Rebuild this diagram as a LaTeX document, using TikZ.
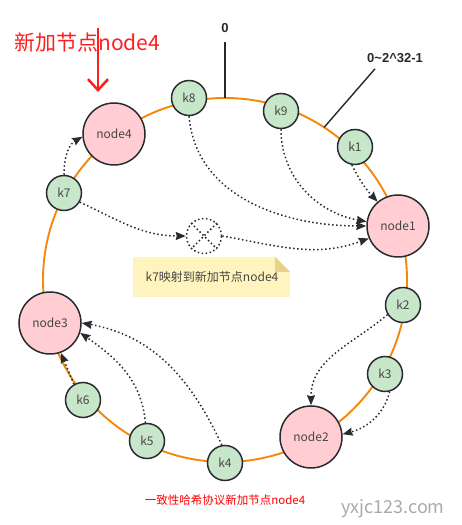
\documentclass[tikz,border=0pt]{standalone}
\usepackage{fontspec}
\setmainfont{Noto Sans CJK SC}
\newfontfamily\libsans{Liberation Sans}
\usetikzlibrary{arrows.meta}
\definecolor{ringorange}{RGB}{245,135,10}
\definecolor{edgegray}{RGB}{40,44,48}
\definecolor{labelgray}{RGB}{70,70,70}
\definecolor{kgreen}{RGB}{200,230,201}
\definecolor{npink}{RGB}{255,205,210}
\definecolor{noteyellow}{RGB}{255,244,189}
\definecolor{notefold}{RGB}{230,210,138}
\definecolor{titlered}{RGB}{255,30,30}
\definecolor{wmgray}{RGB}{170,170,170}
\definecolor{darktext}{RGB}{40,40,40}
\tikzset{
  knode/.style={circle, draw=edgegray, line width=1.5pt, fill=kgreen, minimum size=35pt, inner sep=0pt, text=labelgray, font=\fontsize{12}{14}\selectfont},
  nnode/.style={circle, draw=edgegray, line width=1.5pt, fill=npink, minimum size=62pt, inner sep=0pt, text=labelgray, font=\fontsize{12}{14}\selectfont},
  dotline/.style={draw=edgegray, line width=1.5pt, dash pattern=on 1.5pt off 2.5pt},
  dotarrow/.style={dotline, -{Stealth[length=10pt,width=8pt,inset=1pt]}},
  boldlbl/.style={text=darktext, font=\libsans\bfseries\fontsize{13}{15}\selectfont, inner sep=0pt}
}
\begin{document}
\begin{tikzpicture}[x=1pt,y=1pt]
\useasboundingbox (0,0) rectangle (462,525);
% ring
\node[circle, draw=ringorange, line width=1.9pt, minimum size=364pt, inner sep=0pt, outer sep=0pt] (ring) at (225,245) {};
% labels on ring
\node[boldlbl] (zero) at (225,497) {0};
\draw[darktext, line width=1.4pt] ([yshift=-9pt]zero.south) -- (ring.north);
\node[boldlbl, anchor=west] (range) at (367,467) {0\textasciitilde2\textasciicircum32-1};
\draw[darktext, line width=1.4pt] ([xshift=8pt,yshift=-6pt]range.south west) -- (ring.57);
% nodes
\node[knode] (k8) at (189,427) {k8};
\node[knode] (k9) at (281,414) {k9};
\node[knode] (k1) at (355,378) {k1};
\node[knode] (k7) at (64,332) {k7};
\node[knode] (k2) at (403,220) {k2};
\node[knode] (k3) at (385,151) {k3};
\node[knode] (k4) at (225,62) {k4};
\node[knode] (k5) at (147,84) {k5};
\node[knode] (k6) at (83,125) {k6};
\node[nnode] (node4) at (114,391) {node4};
\node[nnode] (node1) at (398,299) {node1};
\node[nnode] (node3) at (50,202) {node3};
\node[nnode] (node2) at (311,88) {node2};
% dotted crossed circle
\node[circle, dotline, minimum size=35pt, inner sep=0pt] (hx) at (204,289) {};
\draw[dotline] (hx.north west) -- (hx.south east);
\draw[dotline] (hx.north east) -- (hx.south west);
% note
\coordinate (nsw) at (133,228);
\coordinate (nne) at (290,268);
\fill[noteyellow] (nsw) -- (nsw |- nne) -- ([xshift=-15pt]nne) -- ([yshift=-15pt]nne) -- (nne |- nsw) -- cycle;
\fill[notefold] ([xshift=-15pt]nne) -- ([xshift=-15pt,yshift=-15pt]nne) -- ([yshift=-15pt]nne) -- cycle;
\node[text=labelgray, font=\fontsize{12}{14}\selectfont] (note) at (212,248) {k7映射到新加节点node4};
% dotted arrows
\draw[dotarrow] (k8.south) to[out=-85,in=180] (node1.180);
\draw[dotarrow] (k9.south) to[out=-90,in=170] (node1.172);
\draw[dotarrow] (k1.-100) to[bend right=8] (node1.130);
\draw[dotarrow] (k7.-30) to[out=-25,in=180] (hx.west);
\draw[dotarrow] (hx.east) to[out=-10,in=200] (node1.203);
\draw[dotarrow] (k7.north) to[out=90,in=210] (node4.185);
\draw[dotarrow] (k2.212) to[out=-140,in=90] (node2.north);
\draw[dotarrow] (k3.-75) to[out=-105,in=15] (node2.5);
\draw[dotarrow] (k4.100) to[out=115,in=-10] (node3.east);
\draw[dotarrow] (k5.95) to[out=95,in=-35] (node3.-18);
\draw[dotarrow] (k6.120) -- (node3.-70);
% title and red arrow
\node[anchor=west, text=titlered, font=\fontsize{21}{24}\selectfont, inner sep=0pt] (title) at (14,483) {新加节点node4};
\coordinate (atop) at (98,497);
\coordinate (atip) at (98,433);
\draw[titlered, line width=2.5pt, -{Straight Barb[length=11pt,width=20pt]}] (atop) -- (atip);
% caption and watermark
\node[text=red, font=\fontsize{11.5}{13}\selectfont] (cap) at (225,25) {一致性哈希协议新加节点node4};
\node[text=wmgray, font=\fontsize{18}{20}\selectfont] (wm) at (393,16) {yxjc123.com};
\end{tikzpicture}
\end{document}
